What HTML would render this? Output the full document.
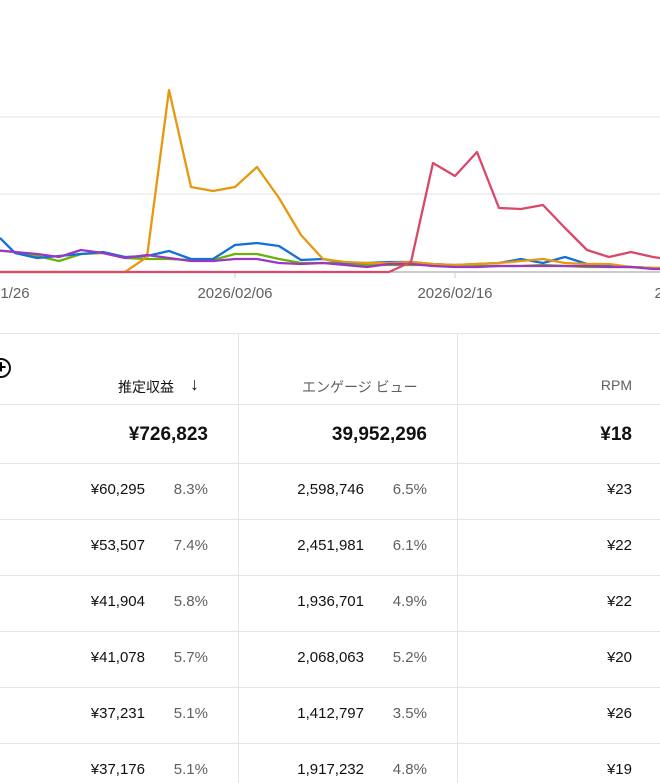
<!DOCTYPE html>
<html><head><meta charset="utf-8"><style>
body{margin:0;width:660px;height:783px;overflow:hidden;background:#fff;font-family:"Liberation Sans","Noto Sans CJK JP",sans-serif;position:relative}
.t{position:absolute;white-space:nowrap}
.hl{position:absolute;left:0;width:660px;height:1px;background:#e5e5e5}
.vl{position:absolute;width:1px;background:#e5e5e5;top:333px;height:450px}
.r{text-align:right}
</style></head><body>
<svg width="660" height="330" style="position:absolute;left:0;top:0" font-family="Liberation Sans, sans-serif">
<line x1="0" y1="117" x2="660" y2="117" stroke="#e6e6e6" stroke-width="1.3"/>
<line x1="0" y1="194" x2="660" y2="194" stroke="#e6e6e6" stroke-width="1.3"/>
<line x1="0" y1="272" x2="660" y2="272" stroke="#999" stroke-width="1"/>
<line x1="235" y1="272" x2="235" y2="278" stroke="#ccc"/>
<line x1="455" y1="272" x2="455" y2="278" stroke="#ccc"/>
<g font-size="15" fill="#606060" text-anchor="middle">
<text x="-8" y="298">2026/01/26</text>
<text x="235" y="298">2026/02/06</text>
<text x="455" y="298">2026/02/16</text>
<text x="692" y="298">2026/02/26</text>
</g>
<g fill="none" stroke-width="2.3" stroke-linejoin="round">
<polyline stroke="#68b30a" points="-7,250 15,252 37,256 59,261 81,254 103,253 125,258 147,259 169,259 191,260 213,260 235,254 257,254 279,259 301,263 323,263 345,263 367,265 389,265 411,265 433,265 455,266 477,266 499,266 521,266 543,265 565,266 587,267 609,267 631,267 653,268 660,268"/>
<polyline stroke="#1271d8" points="0,238 15,253 37,258 59,256 81,254 103,252 125,257 147,256 169,251 191,259 213,259 235,245 257,243 279,246 301,260 323,259 345,263 367,263 389,262 411,262 433,264 455,265 477,264 499,263 521,259 543,263 565,257 587,264 609,266 631,267 653,268 660,268"/>
<polyline stroke="#e8980f" points="-7,272 125,272 147,257 169,90 191,187 213,191 235,187 257,167 279,198 301,235 323,259 345,262 367,263 389,263 411,262 433,264 455,265 477,264 499,263 521,261 543,259 565,263 587,264 609,264 631,267 653,268 660,268"/>
<polyline stroke="#9c37c4" points="-7,250 15,252 37,254 59,257 81,250 103,253 125,258 147,255 169,258 191,261 213,261 235,259 257,259 279,263 301,264 323,263 345,265 367,267 389,264 411,264 433,266 455,267 477,267 499,266 521,266 543,266 565,266 587,266 609,267 631,267 653,269 660,269"/>
<polyline stroke="#d9486b" points="-7,272 389,272 411,262 433,163 455,176 477,152 499,208 521,209 543,205 565,228 587,250 609,257 631,252 653,257 660,258"/>
</g>
</svg>
<div class="hl" style="top:333px"></div>
<div class="hl" style="top:404px"></div>
<div class="hl" style="top:463px"></div>
<div class="hl" style="top:519px"></div>
<div class="hl" style="top:575px"></div>
<div class="hl" style="top:631px"></div>
<div class="hl" style="top:687px"></div>
<div class="hl" style="top:743px"></div>
<div class="vl" style="left:238px"></div>
<div class="vl" style="left:457px"></div>
<div style="position:absolute;left:-9px;top:358px;width:20px;height:20px;border:2px solid #111;border-radius:50%;box-sizing:border-box;text-align:center;line-height:15px;font-size:18px;font-weight:bold">+</div>
<div class="t" style="left:118px;top:377px;font-size:14px;color:#111">推定収益</div>
<div class="t" style="left:190px;top:374px;font-size:18px;color:#111">↓</div>
<div class="t" style="left:302px;top:377px;font-size:14px;color:#606060">エンゲージ ビュー</div>
<div class="t r" style="right:28px;top:377px;font-size:14px;color:#606060">RPM</div>
<div class="t r" style="right:452px;top:424px;font-size:19px;font-weight:bold;color:#111">¥726,823</div>
<div class="t r" style="right:233px;top:424px;font-size:19px;font-weight:bold;color:#111">39,952,296</div>
<div class="t r" style="right:28px;top:424px;font-size:19px;font-weight:bold;color:#111">¥18</div>
<div id="rows"></div>
<script>
var d=[["¥60,295","8.3%","2,598,746","6.5%","¥23"],["¥53,507","7.4%","2,451,981","6.1%","¥22"],["¥41,904","5.8%","1,936,701","4.9%","¥22"],["¥41,078","5.7%","2,068,063","5.2%","¥20"],["¥37,231","5.1%","1,412,797","3.5%","¥26"],["¥37,176","5.1%","1,917,232","4.8%","¥19"]];
var h="";d.forEach(function(r,i){var y=481+56*i;
h+='<div class="t r" style="right:515px;top:'+y+'px;font-size:15px;color:#111">'+r[0]+'</div>'+
'<div class="t r" style="right:452px;top:'+y+'px;font-size:15px;color:#606060">'+r[1]+'</div>'+
'<div class="t r" style="right:296px;top:'+y+'px;font-size:15px;color:#111">'+r[2]+'</div>'+
'<div class="t r" style="right:233px;top:'+y+'px;font-size:15px;color:#606060">'+r[3]+'</div>'+
'<div class="t r" style="right:28px;top:'+y+'px;font-size:15px;color:#111">'+r[4]+'</div>';});
document.getElementById("rows").innerHTML=h;
</script>
</body></html>
